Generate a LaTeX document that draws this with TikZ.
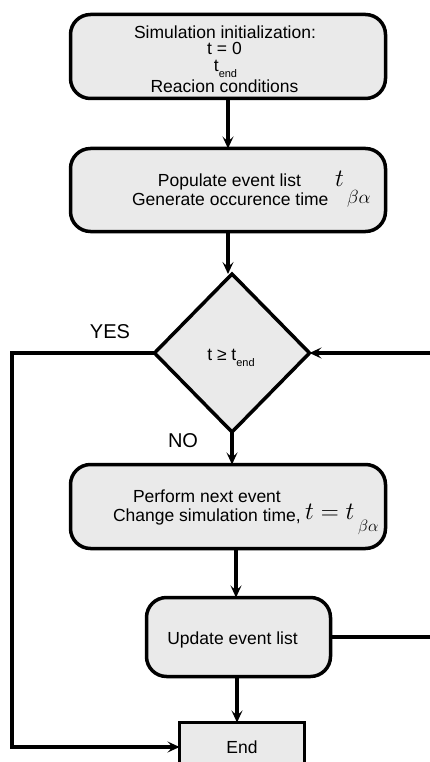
\RequirePackage{fix-cm}
\documentclass[tikz,border=0pt]{standalone}
\usepackage{fontspec}
\setmainfont{Liberation Sans}
\usetikzlibrary{arrows.meta,shapes.geometric}
\definecolor{boxfill}{HTML}{EAEAEA}
\begin{document}
\begin{tikzpicture}[x=1pt,y=-1pt,
  every node/.style={inner sep=0pt,outer sep=0pt},
  txt/.style={font=\fontsize{17.5}{18}\selectfont,anchor=base},
  lbl/.style={font=\fontsize{20}{20}\selectfont,anchor=base},
  rbox/.style={draw,line width=3.5pt,fill=boxfill,rounded corners=20pt,inner sep=0pt},
  sbox/.style={draw,line width=3.5pt,fill=boxfill,inner sep=0pt},
  dbox/.style={draw,line width=3.5pt,fill=boxfill,diamond,inner sep=0pt},
  flow/.style={line width=3.5pt,-{Stealth[length=12pt,width=11pt,inset=5pt]}},
  plain/.style={line width=3.5pt}]
\useasboundingbox (0,0) rectangle (430,762);
% boxes
\node[rbox,minimum width=315pt,minimum height=84pt] (init) at (228,56.5) {};
\node[rbox,minimum width=315pt,minimum height=83pt] (pop) at (228,190) {};
\node[dbox,minimum width=155pt,minimum height=158pt] (dec) at (232,353) {};
\node[rbox,minimum width=315pt,minimum height=84pt] (perf) at (228,506.5) {};
\node[rbox,minimum width=184pt,minimum height=79pt] (upd) at (238.5,637) {};
\node[sbox,minimum width=125pt,minimum height=49pt,font=\fontsize{17.5}{18}\selectfont] (end) at (242,747) {End};
% texts box 1
\node[txt] (i1) at (225,39) {Simulation initialization:};
\node[txt] (i2) at (224.5,55) {t = 0};
\node[txt] (i3) at (225.5,72) {t\raisebox{-6pt}{\fontsize{11}{11}\selectfont end}};
\node[txt] (i4) at (224.5,93) {Reacion conditions};
% texts box 2
\node[txt] (p1) at (229.5,186) {Populate event list};
\node[txt,anchor=base west] (p2) at (132,205) {Generate occurence time};
\node[anchor=base west,font=\fontsize{25}{25}\selectfont] (p3) at (335,186) {$t$};
\node[anchor=base west,font=\fontsize{19}{19}\selectfont] (p4) at (347,204) {$\beta\alpha$};
% decision text
\node[txt] (d1) at (231,360) {t ≥ t\raisebox{-6pt}{\fontsize{11}{11}\selectfont end}};
% texts box 3
\node[txt,anchor=base west] (f1) at (133,502) {Perform next event};
\node[txt,anchor=base west] (f2) at (113,521) {Change simulation time,};
\node[anchor=base west,font=\fontsize{25}{25}\selectfont] (f3) at (305,519) {$t=t$};
\node[anchor=base west,font=\fontsize{16.5}{16.5}\selectfont] (f4) at (358,531) {$\beta\alpha$};
% update text
\node[txt] (u1) at (232.5,644) {Update event list};
% labels
\node[lbl] (yes) at (110,338) {YES};
\node[lbl] (no) at (183,447) {NO};
% connectors
\draw[flow] (init.south) -- (pop.north);
\draw[flow] (pop.south) -- (pop.south |- dec.north);
\draw[flow] (dec.south) -- (dec.south |- perf.north);
\draw[flow] (236,550) coordinate (ps) -- (ps |- upd.north);
\draw[flow] (237,678) coordinate (us) -- (us |- end.north);
\draw[flow] (dec.west) -- (12,353) coordinate (lc) |- (end.west);
\draw[flow] (upd.east) -- (433,637) coordinate (rc) |- (dec.east);
\end{tikzpicture}
\end{document}
